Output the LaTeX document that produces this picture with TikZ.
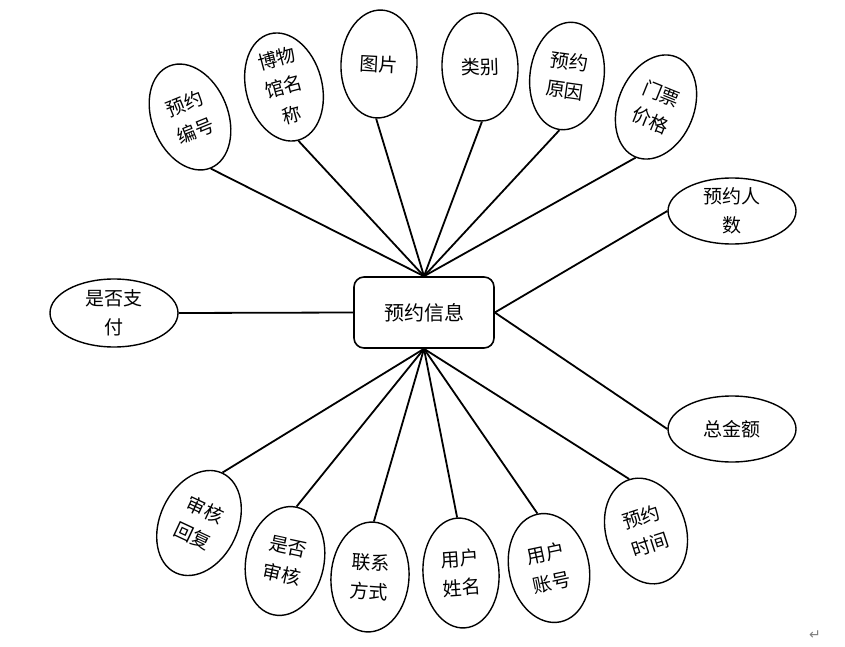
\documentclass[tikz,border=0pt]{standalone}
\usepackage{fontspec}
\setmainfont{Noto Sans CJK SC}
\newfontfamily\symfont{DejaVu Sans}
\usetikzlibrary{shapes.geometric}
\tikzset{
  attr/.style={draw, ellipse, line width=1.4pt, inner sep=0pt, align=center,
    font=\fontsize{19}{29}\selectfont, minimum width=76pt, minimum height=110pt},
  hattr/.style={attr, minimum width=128pt, minimum height=66pt},
  entity/.style={draw, rounded corners=10pt, line width=1.6pt, minimum width=140pt,
    minimum height=71pt, font=\fontsize{20}{24}\selectfont, inner sep=0pt},
  link/.style={line width=1.8pt}
}
\begin{document}
\begin{tikzpicture}[x=1pt,y=-1pt]
\useasboundingbox (0,0) rectangle (845,647);
\node[entity] (main) at (424,312.5) {预约信息};
% top
\node[attr, rotate=22] (a1) at (190,117) {预约\\编号};
\node[attr, rotate=15] (a2) at (284,87) {博物\\馆名\\称};
\node[attr, minimum height=108pt, rotate=-3] (a3) at (379,64) {图片};
\node[attr, minimum height=108pt, rotate=2] (a4) at (480,67) {类别};
\node[attr, minimum width=74pt, minimum height=108pt, rotate=-8] (a5) at (567,76) {预约\\原因};
\node[attr, minimum height=108pt, rotate=-22] (a6) at (656,107) {门票\\价格};
% right and left
\node[hattr] (r1) at (732,211) {预约人\\数};
\node[hattr] (r2) at (732,429) {总金额};
\node[hattr, minimum height=68pt] (l1) at (114,313) {是否支\\付};
% bottom
\node[attr, minimum width=78pt, rotate=-25] (b1) at (199,523) {审核\\回复};
\node[attr, minimum width=78pt, rotate=-12] (b2) at (285,561) {是否\\审核};
\node[attr, minimum width=78pt, rotate=-4] (b3) at (370,577) {联系\\方式};
\node[attr, rotate=4] (b4) at (461,573) {用户\\姓名};
\node[attr, minimum width=80pt, rotate=12] (b5) at (549,568) {用户\\账号};
\node[attr, minimum width=80pt, minimum height=108pt, rotate=18] (b6) at (646,531) {预约\\时间};
% connectors
\foreach \n in {a1,a2,a3,a4,a5,a6} \draw[link] (main.north) -- (\n.south);
\foreach \n in {b1,b2,b3,b4,b5,b6} \draw[link] (main.south) -- (\n.north);
\draw[link] (main.east) -- (r1.west);
\draw[link] (main.east) -- (r2.west);
\draw[link] (main.west) -- (l1.east);
\node[text=gray, font=\symfont\fontsize{14}{16}\selectfont] (pm) at (815,635) {↵};
\end{tikzpicture}
\end{document}
